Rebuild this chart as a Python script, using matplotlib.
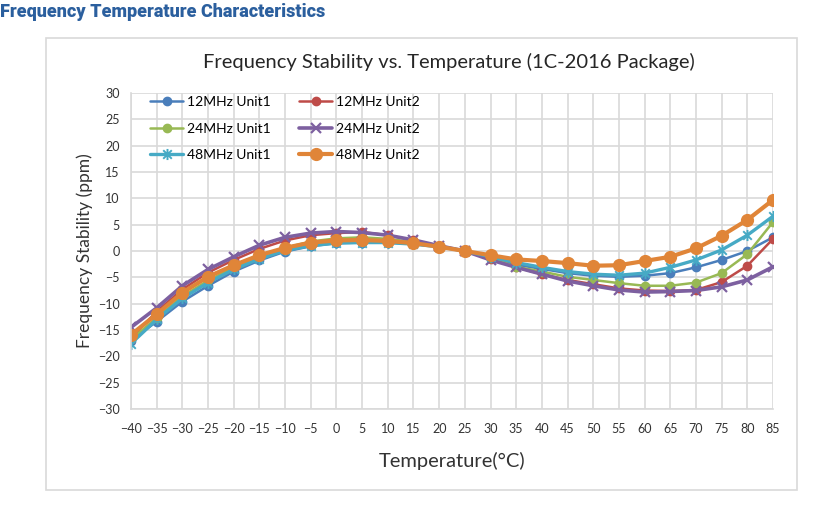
import numpy as np
import matplotlib
matplotlib.use("Agg")
import matplotlib.pyplot as plt
from matplotlib.path import Path
from matplotlib.patches import Rectangle

temps = list(range(-40, 90, 5))

mhz12_unit1 = [-17.0, -13.4, -9.6, -6.6, -3.9, -1.8, -0.1, 0.9, 1.5, 1.6, 1.6, 1.3, 0.9,
               0.0, -1.2, -2.6, -3.4, -4.2, -4.7, -4.9, -4.7, -4.2, -3.1, -1.7, 0.0, 2.6]
mhz12_unit2 = [-16.5, -11.5, -7.3, -4.1, -1.7, 0.4, 2.0, 3.0, 3.4, 3.6, 3.0, 2.0, 1.0,
               0.0, -1.5, -3.1, -4.4, -5.5, -6.3, -7.1, -7.5, -7.6, -7.4, -5.9, -2.8, 2.3]
mhz24_unit1 = [-16.8, -12.7, -8.6, -5.6, -3.1, -1.0, 0.6, 1.8, 2.4, 2.6, 2.3, 1.7, 0.9,
               0.0, -1.3, -3.0, -3.9, -4.9, -5.5, -6.1, -6.6, -6.6, -6.0, -4.2, -0.6, 5.5]
mhz24_unit2 = [-14.5, -10.8, -6.6, -3.5, -1.1, 1.1, 2.6, 3.4, 3.7, 3.5, 3.0, 2.1, 1.0,
               0.0, -1.7, -3.1, -4.4, -5.7, -6.6, -7.4, -7.8, -7.7, -7.5, -6.8, -5.5, -3.0]
mhz48_unit1 = [-17.6, -13.0, -9.0, -6.0, -3.5, -1.5, 0.1, 1.0, 1.5, 1.6, 1.6, 1.3, 0.8,
               0.0, -1.1, -2.2, -3.1, -3.9, -4.4, -4.6, -4.2, -3.1, -1.7, 0.2, 3.0, 6.6]
mhz48_unit2 = [-15.9, -12.0, -7.9, -4.9, -2.7, -0.8, 0.6, 1.6, 2.0, 2.1, 1.9, 1.5, 0.8,
               0.0, -0.8, -1.6, -1.9, -2.3, -2.8, -2.7, -1.9, -1.1, 0.5, 2.9, 5.9, 9.7]

labels = ["12MHz Unit1", "12MHz Unit2", "24MHz Unit1", "24MHz Unit2", "48MHz Unit1", "48MHz Unit2"]
series = [mhz12_unit1, mhz12_unit2, mhz24_unit1, mhz24_unit2, mhz48_unit1, mhz48_unit2]
colors = ["#4a7ebb", "#be4b48", "#98b954", "#7d60a0", "#46aac5", "#e08538"]

# excel style "star" marker: an x with a vertical bar
star = Path([(-1, -1), (1, 1), (-1, 1), (1, -1), (0, -1.3), (0, 1.3)],
            [Path.MOVETO, Path.LINETO, Path.MOVETO, Path.LINETO, Path.MOVETO, Path.LINETO])

styles = [
    dict(marker="o", ms=6, lw=1.8),
    dict(marker="o", ms=6, lw=1.8),
    dict(marker="o", ms=6, lw=1.8),
    dict(marker="x", ms=7, lw=2.6, mew=1.6),
    dict(marker=star, ms=8, lw=2.4, mew=1.4),
    dict(marker="o", ms=8.5, lw=3.0),
]

font = "Lato"
plt.rcParams["font.family"] = [font, "DejaVu Sans"]

fig = plt.figure(figsize=(8.16, 5.05), dpi=100)
fig.patch.set_facecolor("white")

# page heading
fig.text(0.0, 1 - 12 / 505, "Frequency Temperature Characteristics", fontsize=13,
         fontweight="black", color="#2b5f9e", ha="left", va="center",
         family=["Roboto", "DejaVu Sans"])

# chart frame
fig.patches.append(Rectangle((46 / 816, 1 - 490 / 505), (797 - 46) / 816, (490 - 38) / 505,
                             transform=fig.transFigure, fill=False, edgecolor="#d9d9d9", lw=1.2))

fig.text(449 / 816, 1 - 62 / 505, "Frequency Stability vs. Temperature (1C-2016 Package)",
         fontsize=14.5, color="#262626", ha="center", va="center")

ax = fig.add_axes([131 / 816, 1 - 409 / 505, (773 - 131) / 816, (409 - 93) / 505])
handles = []
for vals, lab, col, st in zip(series, labels, colors, styles):
    h, = ax.plot(temps, vals, color=col, label=lab, mfc=col, mec=col,
                 solid_capstyle="round", **st)
    handles.append(h)

ax.set_xlim(-40, 85)
ax.set_ylim(-30, 30)
ax.set_xticks(temps)
ax.set_yticks(range(-30, 35, 5))
ax.grid(True, color="#d9d9d9", lw=1.2)
ax.set_axisbelow(True)
for s in ["top", "right"]:
    ax.spines[s].set_visible(False)
for s in ["left", "bottom"]:
    ax.spines[s].set_color("#d9d9d9")
    ax.spines[s].set_linewidth(1.2)
ax.tick_params(length=0, labelsize=9, colors="#333333", pad=10)
ax.tick_params(axis="y", pad=8)
ax.set_xlabel("Temperature(°C)", fontsize=14.5, color="#333333", labelpad=12)
ax.set_ylabel("Frequency Stability (ppm)", fontsize=12.5, color="#333333", labelpad=4)

order = [0, 2, 4, 1, 3, 5]
ax.legend([handles[i] for i in order], [labels[i] for i in order], ncol=2,
          loc="upper left", bbox_to_anchor=(0.01, 1.03), frameon=False, fontsize=10,
          handlelength=2.4, handletextpad=0.3, columnspacing=2.0, labelspacing=1.05)

fig.savefig("out.png", dpi=100, facecolor="white")
